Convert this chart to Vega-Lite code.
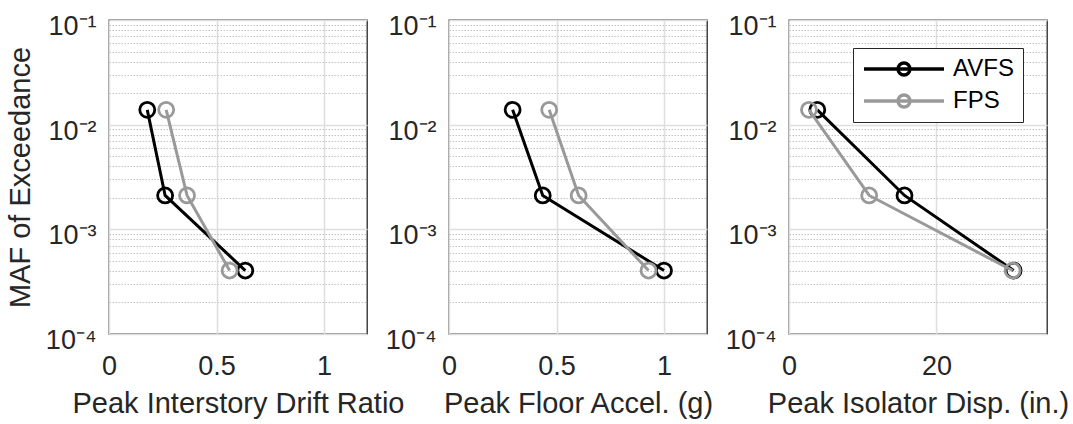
{
  "$schema": "https://vega.github.io/schema/vega-lite/v6.json",
  "autosize": {"type": "pad"},
  "padding": {"left": 5, "top": 11, "right": 5, "bottom": 5},
  "bounds": "flush",
  "spacing": 82,
  "background": "white",
  "config": {
    "font": "Liberation Sans",
    "view": {"stroke": "#262626", "strokeWidth": 1.3},
    "axis": {
      "labelFont": "Liberation Sans",
      "titleFont": "Liberation Sans",
      "labelFontSize": 27,
      "titleFontSize": 29,
      "labelColor": "#262626",
      "titleColor": "#262626",
      "titleFontWeight": "normal",
      "domain": false,
      "ticks": false,
      "tickSize": 0,
      "gridColor": "#dedede",
      "gridWidth": 1.5,
      "gridOpacity": 1
    },
    "axisX": {"labelPadding": 19, "titlePadding": 10, "labelFlush": false, "labelOverlap": false},
    "axisY": {"labelPadding": 13, "titlePadding": 10, "labelOverlap": false, "labelOffset": 6.5}
  },
  "datasets": {
    "drift": [
      {"system": "AVFS", "x": 0.178, "maf": 0.01386},
      {"system": "AVFS", "x": 0.261, "maf": 0.002107},
      {"system": "AVFS", "x": 0.634, "maf": 0.000404},
      {"system": "FPS", "x": 0.266, "maf": 0.01386},
      {"system": "FPS", "x": 0.363, "maf": 0.002107},
      {"system": "FPS", "x": 0.561, "maf": 0.000404}
    ],
    "accel": [
      {"system": "AVFS", "x": 0.296, "maf": 0.01386},
      {"system": "AVFS", "x": 0.436, "maf": 0.002107},
      {"system": "AVFS", "x": 1.0, "maf": 0.000404},
      {"system": "FPS", "x": 0.466, "maf": 0.01386},
      {"system": "FPS", "x": 0.603, "maf": 0.002107},
      {"system": "FPS", "x": 0.928, "maf": 0.000404}
    ],
    "disp": [
      {"system": "AVFS", "x": 3.84, "maf": 0.01386},
      {"system": "AVFS", "x": 15.67, "maf": 0.002107},
      {"system": "AVFS", "x": 30.47, "maf": 0.000404},
      {"system": "FPS", "x": 2.71, "maf": 0.01386},
      {"system": "FPS", "x": 10.88, "maf": 0.002107},
      {"system": "FPS", "x": 30.34, "maf": 0.000404}
    ]
  },
  "hconcat": [
    {
      "width": 258,
      "height": 314,
      "data": {"name": "drift"},
      "encoding": {
        "x": {"field": "x", "type": "quantitative", "scale": {"domain": [0, 1.2], "nice": false, "zero": false},
              "axis": {"values": [0, 0.5, 1], "format": "~g", "title": "Peak Interstory Drift Ratio"}},
        "y": {"field": "maf", "type": "quantitative", "scale": {"type": "log", "domain": [0.0001, 0.1], "nice": false},
              "axis": {
                "title": "MAF of Exceedance",
                "values": [0.0001,0.0002,0.0003,0.0004,0.0005,0.0006,0.0007,0.0008,0.0009,0.001,0.002,0.003,0.004,0.005,0.006,0.007,0.008,0.009,0.01,0.02,0.03,0.04,0.05,0.06,0.07,0.08,0.09,0.1],
                "labelExpr": "datum.value == 0.1 ? '10⁻¹' : datum.value == 0.01 ? '10⁻²' : datum.value == 0.001 ? '10⁻³' : datum.value == 0.0001 ? '10⁻⁴' : ''",
                "gridDash": {"condition": {"test": "datum.value == 0.1 || datum.value == 0.01 || datum.value == 0.001 || datum.value == 0.0001", "value": []}, "value": [1.5, 1.5]},
                "gridColor": {"condition": {"test": "datum.value == 0.1 || datum.value == 0.01 || datum.value == 0.001 || datum.value == 0.0001", "value": "#dedede"}, "value": "#c4c4c4"},
                "gridWidth": {"condition": {"test": "datum.value == 0.1 || datum.value == 0.01 || datum.value == 0.001 || datum.value == 0.0001", "value": 1.5}, "value": 1}
              }},
        "color": {"field": "system", "type": "nominal", "scale": {"domain": ["AVFS", "FPS"], "range": ["#000000", "#999999"]}, "legend": null}
      },
      "layer": [
        {"transform": [{"filter": "datum.system == 'AVFS'"}], "mark": {"type": "line", "strokeWidth": 3}},
        {"transform": [{"filter": "datum.system == 'AVFS'"}], "mark": {"type": "point", "filled": false, "size": 225, "strokeWidth": 2.8, "opacity": 1}},
        {"transform": [{"filter": "datum.system == 'FPS'"}], "mark": {"type": "line", "strokeWidth": 3}},
        {"transform": [{"filter": "datum.system == 'FPS'"}], "mark": {"type": "point", "filled": false, "size": 225, "strokeWidth": 2.8, "opacity": 1}}
      ]
    },
    {
      "width": 258,
      "height": 314,
      "data": {"name": "accel"},
      "encoding": {
        "x": {"field": "x", "type": "quantitative", "scale": {"domain": [0, 1.2], "nice": false, "zero": false},
              "axis": {"values": [0, 0.5, 1], "format": "~g", "title": "Peak Floor Accel. (g)"}},
        "y": {"field": "maf", "type": "quantitative", "scale": {"type": "log", "domain": [0.0001, 0.1], "nice": false},
              "axis": {
                "title": null,
                "values": [0.0001,0.0002,0.0003,0.0004,0.0005,0.0006,0.0007,0.0008,0.0009,0.001,0.002,0.003,0.004,0.005,0.006,0.007,0.008,0.009,0.01,0.02,0.03,0.04,0.05,0.06,0.07,0.08,0.09,0.1],
                "labelExpr": "datum.value == 0.1 ? '10⁻¹' : datum.value == 0.01 ? '10⁻²' : datum.value == 0.001 ? '10⁻³' : datum.value == 0.0001 ? '10⁻⁴' : ''",
                "gridDash": {"condition": {"test": "datum.value == 0.1 || datum.value == 0.01 || datum.value == 0.001 || datum.value == 0.0001", "value": []}, "value": [1.5, 1.5]},
                "gridColor": {"condition": {"test": "datum.value == 0.1 || datum.value == 0.01 || datum.value == 0.001 || datum.value == 0.0001", "value": "#dedede"}, "value": "#c4c4c4"},
                "gridWidth": {"condition": {"test": "datum.value == 0.1 || datum.value == 0.01 || datum.value == 0.001 || datum.value == 0.0001", "value": 1.5}, "value": 1}
              }},
        "color": {"field": "system", "type": "nominal", "scale": {"domain": ["AVFS", "FPS"], "range": ["#000000", "#999999"]}, "legend": null}
      },
      "layer": [
        {"transform": [{"filter": "datum.system == 'AVFS'"}], "mark": {"type": "line", "strokeWidth": 3}},
        {"transform": [{"filter": "datum.system == 'AVFS'"}], "mark": {"type": "point", "filled": false, "size": 225, "strokeWidth": 2.8, "opacity": 1}},
        {"transform": [{"filter": "datum.system == 'FPS'"}], "mark": {"type": "line", "strokeWidth": 3}},
        {"transform": [{"filter": "datum.system == 'FPS'"}], "mark": {"type": "point", "filled": false, "size": 225, "strokeWidth": 2.8, "opacity": 1}}
      ]
    },
    {
      "width": 258,
      "height": 314,
      "data": {"name": "disp"},
      "encoding": {
        "x": {"field": "x", "type": "quantitative", "scale": {"domain": [0, 35], "nice": false, "zero": false},
              "axis": {"values": [0, 20], "format": "d", "title": "Peak Isolator Disp. (in.)"}},
        "y": {"field": "maf", "type": "quantitative", "scale": {"type": "log", "domain": [0.0001, 0.1], "nice": false},
              "axis": {
                "title": null,
                "values": [0.0001,0.0002,0.0003,0.0004,0.0005,0.0006,0.0007,0.0008,0.0009,0.001,0.002,0.003,0.004,0.005,0.006,0.007,0.008,0.009,0.01,0.02,0.03,0.04,0.05,0.06,0.07,0.08,0.09,0.1],
                "labelExpr": "datum.value == 0.1 ? '10⁻¹' : datum.value == 0.01 ? '10⁻²' : datum.value == 0.001 ? '10⁻³' : datum.value == 0.0001 ? '10⁻⁴' : ''",
                "gridDash": {"condition": {"test": "datum.value == 0.1 || datum.value == 0.01 || datum.value == 0.001 || datum.value == 0.0001", "value": []}, "value": [1.5, 1.5]},
                "gridColor": {"condition": {"test": "datum.value == 0.1 || datum.value == 0.01 || datum.value == 0.001 || datum.value == 0.0001", "value": "#dedede"}, "value": "#c4c4c4"},
                "gridWidth": {"condition": {"test": "datum.value == 0.1 || datum.value == 0.01 || datum.value == 0.001 || datum.value == 0.0001", "value": 1.5}, "value": 1}
              }},
        "color": {"field": "system", "type": "nominal", "scale": {"domain": ["AVFS", "FPS"], "range": ["#000000", "#999999"]},
                  "legend": {
                    "title": null,
                    "orient": "none",
                    "legendX": 64,
                    "legendY": 28,
                    "symbolType": "M-1,0L1,0M-0.15,0A0.15,0.15,0,1,0,0.15,0A0.15,0.15,0,1,0,-0.15,0",
                    "symbolSize": 6400,
                    "symbolStrokeWidth": 3.3,
                    "symbolFillColor": "transparent",
                    "symbolOpacity": 1,
                    "labelFont": "Liberation Sans",
                    "labelFontSize": 24,
                    "labelColor": "#000000",
                    "labelOffset": 7,
                    "clipHeight": 24,
                    "rowPadding": 8,
                    "padding": 9,
                    "strokeColor": "#262626",
                    "fillColor": "white"
                  }}
      },
      "layer": [
        {"transform": [{"filter": "datum.system == 'AVFS'"}], "mark": {"type": "line", "strokeWidth": 3}},
        {"transform": [{"filter": "datum.system == 'AVFS'"}], "mark": {"type": "point", "filled": false, "size": 225, "strokeWidth": 2.8, "opacity": 1}},
        {"transform": [{"filter": "datum.system == 'FPS'"}], "mark": {"type": "line", "strokeWidth": 3}},
        {"transform": [{"filter": "datum.system == 'FPS'"}], "mark": {"type": "point", "filled": false, "size": 225, "strokeWidth": 2.8, "opacity": 1}}
      ]
    }
  ],
  "resolve": {"scale": {"color": "independent", "x": "independent", "y": "independent"}, "legend": {"color": "independent"}}
}
